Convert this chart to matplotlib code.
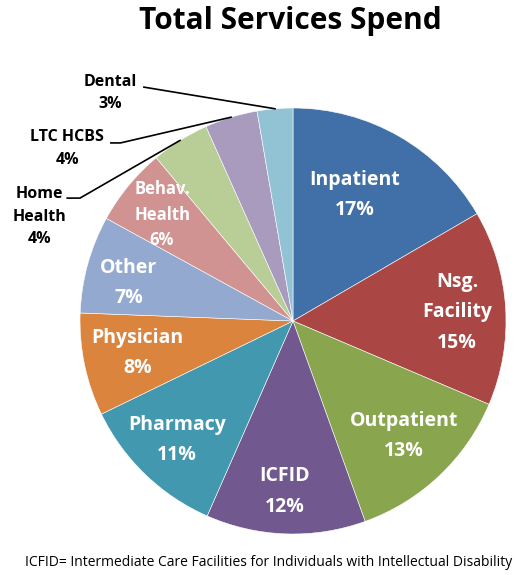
import matplotlib
matplotlib.use('Agg')
import matplotlib.pyplot as plt
import numpy as np

plt.rcParams['font.family'] = ['Open Sans', 'DejaVu Sans']

categories = ['Inpatient', 'Nsg.\nFacility', 'Outpatient', 'ICFID', 'Pharmacy',
              'Physician', 'Other', 'Behav.\nHealth', 'Home\nHealth', 'LTC HCBS', 'Dental']
shares = [16.6, 14.8, 13.1, 12.1, 11.2, 7.8, 7.4, 5.9, 4.4, 4.0, 2.7]
colors = ['#4170A8', '#AA4643', '#89A54E', '#71588F', '#4198AF', '#DB843D',
          '#93A9CF', '#D19392', '#B9CD96', '#A99BBD', '#92C3D4']

# label placement (pie units, centre at 0,0, radius 1)
inside_pos = {
    'Inpatient': (0.29, 0.59), 'Nsg.\nFacility': (0.77, 0.04),
    'Outpatient': (0.52, -0.54), 'ICFID': (-0.04, -0.80),
    'Pharmacy': (-0.545, -0.56), 'Physician': (-0.73, -0.15),
    'Other': (-0.77, 0.18), 'Behav.\nHealth': (-0.615, 0.50),
}
outside_pos = {
    'Dental': ((-0.86, 1.07), [(-0.70, 1.098)]),
    'LTC HCBS': ((-1.06, 0.81), [(-0.855, 0.836), (-0.81, 0.836)]),
    'Home\nHealth': ((-1.19, 0.49), [(-1.06, 0.577), (-1.0, 0.577)]),
}

fig = plt.figure(figsize=(5.18, 5.75), dpi=100)
ax = fig.add_axes([0, 0, 1, 1])

wedges, _ = ax.pie(shares, colors=colors, startangle=90, counterclock=False,
                   wedgeprops=dict(edgecolor='white', linewidth=0.4))
ax.set_xlim(-293 / 213, (518 - 293) / 213)
ax.set_ylim(-(575 - 321) / 213, 321 / 213)
ax.set_aspect('auto')
ax.axis('off')

for w, cat, val in zip(wedges, categories, shares):
    txt = f'{cat}\n{val:.0f}%'
    if cat in inside_pos:
        x, y = inside_pos[cat]
        small = cat.startswith('Behav')
        ax.text(x, y, txt, ha='center', va='center', color='white',
                fontsize=12 if small else 14, fontweight='bold',
                linespacing=1.55 if small else 1.68)
    else:
        (x, y), pts = outside_pos[cat]
        ax.text(x, y, txt, ha='center', va='center', color='black',
                fontsize=11.5, fontweight='bold', linespacing=1.55)
        mid = np.deg2rad((w.theta1 + w.theta2) / 2)
        end = (np.cos(mid), np.sin(mid))
        xs = [p[0] for p in pts] + [end[0]]
        ys = [p[1] for p in pts] + [end[1]]
        ax.plot(xs, ys, color='black', linewidth=1.2)

fig.text(0.56, 0.963, 'Total Services Spend', ha='center', va='center',
         fontsize=21.5, fontweight='bold')
fig.text(0.518, 0.022, 'ICFID= Intermediate Care Facilities for Individuals with Intellectual Disability',
         ha='center', va='center', fontsize=10)

fig.savefig('out.png', dpi=100)
